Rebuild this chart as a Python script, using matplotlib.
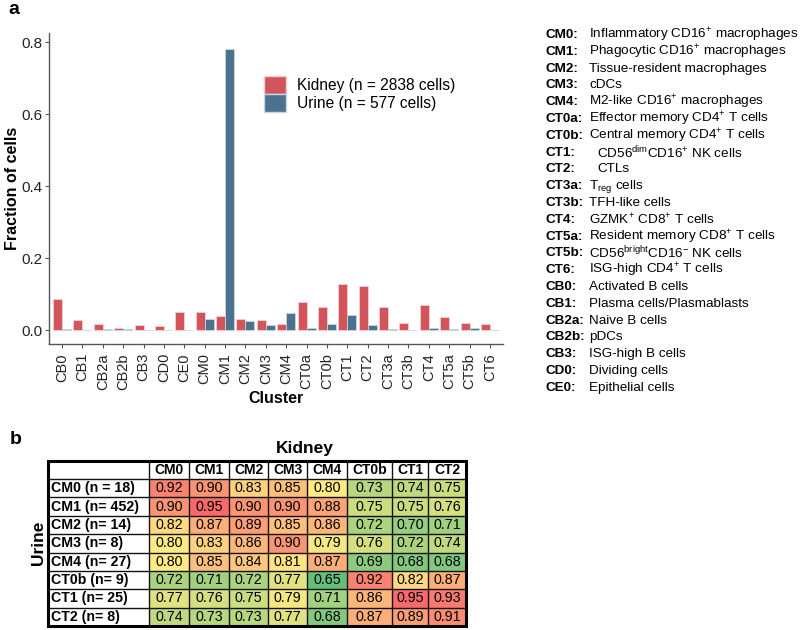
import numpy as np
import matplotlib
matplotlib.use('Agg')
import matplotlib.pyplot as plt
from matplotlib.colors import LinearSegmentedColormap, TwoSlopeNorm
from matplotlib.patches import Patch, Rectangle

plt.rcParams['font.family'] = ['Liberation Sans', 'DejaVu Sans']
plt.rcParams['mathtext.fontset'] = 'custom'
plt.rcParams['mathtext.rm'] = 'Liberation Sans'
plt.rcParams['mathtext.it'] = 'Liberation Sans:italic'
plt.rcParams['mathtext.bf'] = 'Liberation Sans:bold'

# ---- panel a data
clusters = ['CB0', 'CB1', 'CB2a', 'CB2b', 'CB3', 'CD0', 'CE0', 'CM0', 'CM1', 'CM2', 'CM3',
            'CM4', 'CT0a', 'CT0b', 'CT1', 'CT2', 'CT3a', 'CT3b', 'CT4', 'CT5a', 'CT5b', 'CT6']
kidney = [0.086, 0.028, 0.017, 0.005, 0.015, 0.011, 0.049, 0.049, 0.040, 0.030, 0.028,
          0.017, 0.078, 0.064, 0.129, 0.123, 0.064, 0.020, 0.069, 0.037, 0.019, 0.018]
urine = [0.002, 0.0, 0.002, 0.002, 0.0, 0.0, 0.0, 0.030, 0.782, 0.025, 0.013,
         0.046, 0.005, 0.016, 0.043, 0.014, 0.002, 0.0, 0.005, 0.002, 0.007, 0.0]
kidney_label = 'Kidney (n = 2838 cells)'
urine_label = 'Urine (n = 577 cells)'

# cluster annotation list (right of panel a)
annot_keys = ['CM0:', 'CM1:', 'CM2:', 'CM3:', 'CM4:', 'CT0a:', 'CT0b:', 'CT1:', 'CT2:',
              'CT3a:', 'CT3b:', 'CT4:', 'CT5a:', 'CT5b:', 'CT6:', 'CB0:', 'CB1:', 'CB2a:',
              'CB2b:', 'CB3:', 'CD0:', 'CE0:']
annot_desc = ['Inflammatory CD16$^{+}$ macrophages',
              'Phagocytic CD16$^{+}$ macrophages',
              'Tissue-resident macrophages',
              'cDCs',
              'M2-like CD16$^{+}$ macrophages',
              'Effector memory CD4$^{+}$ T cells',
              'Central memory CD4$^{+}$ T cells',
              'CD56$^{\\mathrm{dim}}$CD16$^{+}$ NK cells',
              'CTLs',
              'T$_{\\mathrm{reg}}$ cells',
              'TFH-like cells',
              'GZMK$^{+}$ CD8$^{+}$ T cells',
              'Resident memory CD8$^{+}$ T cells',
              'CD56$^{\\mathrm{bright}}$CD16$^{-}$ NK cells',
              'ISG-high CD4$^{+}$ T cells',
              'Activated B cells',
              'Plasma cells/Plasmablasts',
              'Naive B cells',
              'pDCs',
              'ISG-high B cells',
              'Dividing cells',
              'Epithelial cells']

# ---- panel b data
kid_cols = ['CM0', 'CM1', 'CM2', 'CM3', 'CM4', 'CT0b', 'CT1', 'CT2']
uri_rows = ['CM0 (n = 18)', 'CM1 (n= 452)', 'CM2 (n= 14)', 'CM3 (n= 8)',
            'CM4 (n= 27)', 'CT0b (n= 9)', 'CT1 (n= 25)', 'CT2 (n= 8)']
sim = np.array([
    [0.92, 0.90, 0.83, 0.85, 0.80, 0.73, 0.74, 0.75],
    [0.90, 0.95, 0.90, 0.90, 0.88, 0.75, 0.75, 0.76],
    [0.82, 0.87, 0.89, 0.85, 0.86, 0.72, 0.70, 0.71],
    [0.80, 0.83, 0.86, 0.90, 0.79, 0.76, 0.72, 0.74],
    [0.80, 0.85, 0.84, 0.81, 0.87, 0.69, 0.68, 0.68],
    [0.72, 0.71, 0.72, 0.77, 0.65, 0.92, 0.82, 0.87],
    [0.77, 0.76, 0.75, 0.79, 0.71, 0.86, 0.95, 0.93],
    [0.74, 0.73, 0.73, 0.77, 0.68, 0.87, 0.89, 0.91],
])

W, H = 800, 630
def fx(x):
    return x / W
def fy(y):
    return 1 - y / H

red = '#d1555a'
blue = '#4b728f'

fig = plt.figure(figsize=(8, 6.3), dpi=100)

# ---------------- panel a
ax = fig.add_axes([fx(49), fy(344), (503 - 49) / W, (344 - 33) / H])
x = np.arange(len(clusters))
bw = 0.44
ax.bar(x - bw / 2, kidney, width=bw, color=red, edgecolor='#f2d0d2', linewidth=0.6)
ax.bar(x + bw / 2, urine, width=bw, color=blue, edgecolor='#c9d6e0', linewidth=0.6)
ax.set_xlim(-0.64, len(clusters) - 1 + 0.64)
ax.set_ylim(-0.0388, 0.8256)
ax.set_yticks([0.0, 0.2, 0.4, 0.6, 0.8])
ax.set_yticklabels(['0.0', '0.2', '0.4', '0.6', '0.8'])
ax.set_xticks(x)
ax.set_xticklabels(clusters, rotation=90)
for s in ['top', 'right']:
    ax.spines[s].set_visible(False)
for s in ['left', 'bottom']:
    ax.spines[s].set_color('#555555')
    ax.spines[s].set_linewidth(1.0)
ax.tick_params(axis='y', labelsize=11, colors='#555555', labelcolor='#222222', length=3, pad=1.5)
ax.tick_params(axis='x', labelsize=10.5, colors='#555555', labelcolor='#222222', length=3)
ax.set_ylabel('Fraction of cells', fontsize=11.5, fontweight='bold')
ax.yaxis.set_label_coords((20 - 49) / 454, 0.5)
ax.set_xlabel('Cluster', fontsize=11.5, fontweight='bold', labelpad=1)

handles = [Patch(facecolor=red, edgecolor='#f2d0d2', label=kidney_label),
           Patch(facecolor=blue, edgecolor='#c9d6e0', label=urine_label)]
fig.legend(handles=handles, loc='upper left', bbox_to_anchor=(fx(264), fy(76)),
           frameon=False, fontsize=11.2, handlelength=1.4, handleheight=1.4,
           handletextpad=0.75, labelspacing=0.0, borderpad=0, borderaxespad=0)

fig.text(fx(8), fy(10), 'a', fontsize=14, fontweight='bold', va='center', ha='left')

# annotation list
for i, (k, d) in enumerate(zip(annot_keys, annot_desc)):
    yy = 35 + i * 16.8
    fig.text(fx(546), fy(yy), k, fontsize=9.7, fontweight='bold', va='center', ha='left')
    dx = 597 if k in ('CT1:', 'CT2:') else 589
    fig.text(fx(dx), fy(yy), d, fontsize=9.7, va='center', ha='left')

# ---------------- panel b
cmap = LinearSegmentedColormap.from_list('gyr', ['#63be7b', '#ffeb84', '#f8696b'])
norm = TwoSlopeNorm(vmin=sim.min(), vcenter=0.80, vmax=sim.max())

col_w = [101, 40, 40, 39, 39, 40, 45, 36, 38]
row_h = [18] + [18.375] * len(uri_rows)
col_e = np.concatenate([[0], np.cumsum(col_w)])
row_e = np.concatenate([[0], np.cumsum(row_h)])
tw, th = col_e[-1], row_e[-1]

tax = fig.add_axes([fx(48), fy(626), tw / W, th / H])
tax.set_xlim(0, tw)
tax.set_ylim(th, 0)
tax.axis('off')
tax.pcolormesh(col_e[1:], row_e[1:], sim, cmap=cmap, norm=norm)
tax.hlines(row_e[1:-1], 0, tw, color='#111111', linewidth=1.0)
tax.vlines(col_e[1:-1], 0, th, color='#111111', linewidth=1.0)
tax.add_patch(Rectangle((0, 0), tw, th, fill=False, edgecolor='black', linewidth=2.2,
                        clip_on=False))

for j, c in enumerate(kid_cols):
    cx = (col_e[j + 1] + col_e[j + 2]) / 2
    tax.text(cx, row_h[0] / 2, c, ha='center', va='center', fontsize=10, fontweight='bold')
for i, r in enumerate(uri_rows):
    cy = (row_e[i + 1] + row_e[i + 2]) / 2
    tax.text(3, cy, r, ha='left', va='center', fontsize=10.2, fontweight='bold')
    for j in range(len(kid_cols)):
        cx = (col_e[j + 1] + col_e[j + 2]) / 2
        tax.text(cx, cy, f'{sim[i, j]:.2f}', ha='center', va='center', fontsize=10.3)

fig.text(fx(10), fy(440), 'b', fontsize=14, fontweight='bold', va='center', ha='left')
fig.text(fx(305), fy(448), 'Kidney', fontsize=12.5, fontweight='bold', va='center', ha='center')
fig.text(fx(38), fy(543), 'Urine', fontsize=12.5, fontweight='bold', va='center', ha='center',
         rotation=90)

fig.savefig('out.png', dpi=100)
